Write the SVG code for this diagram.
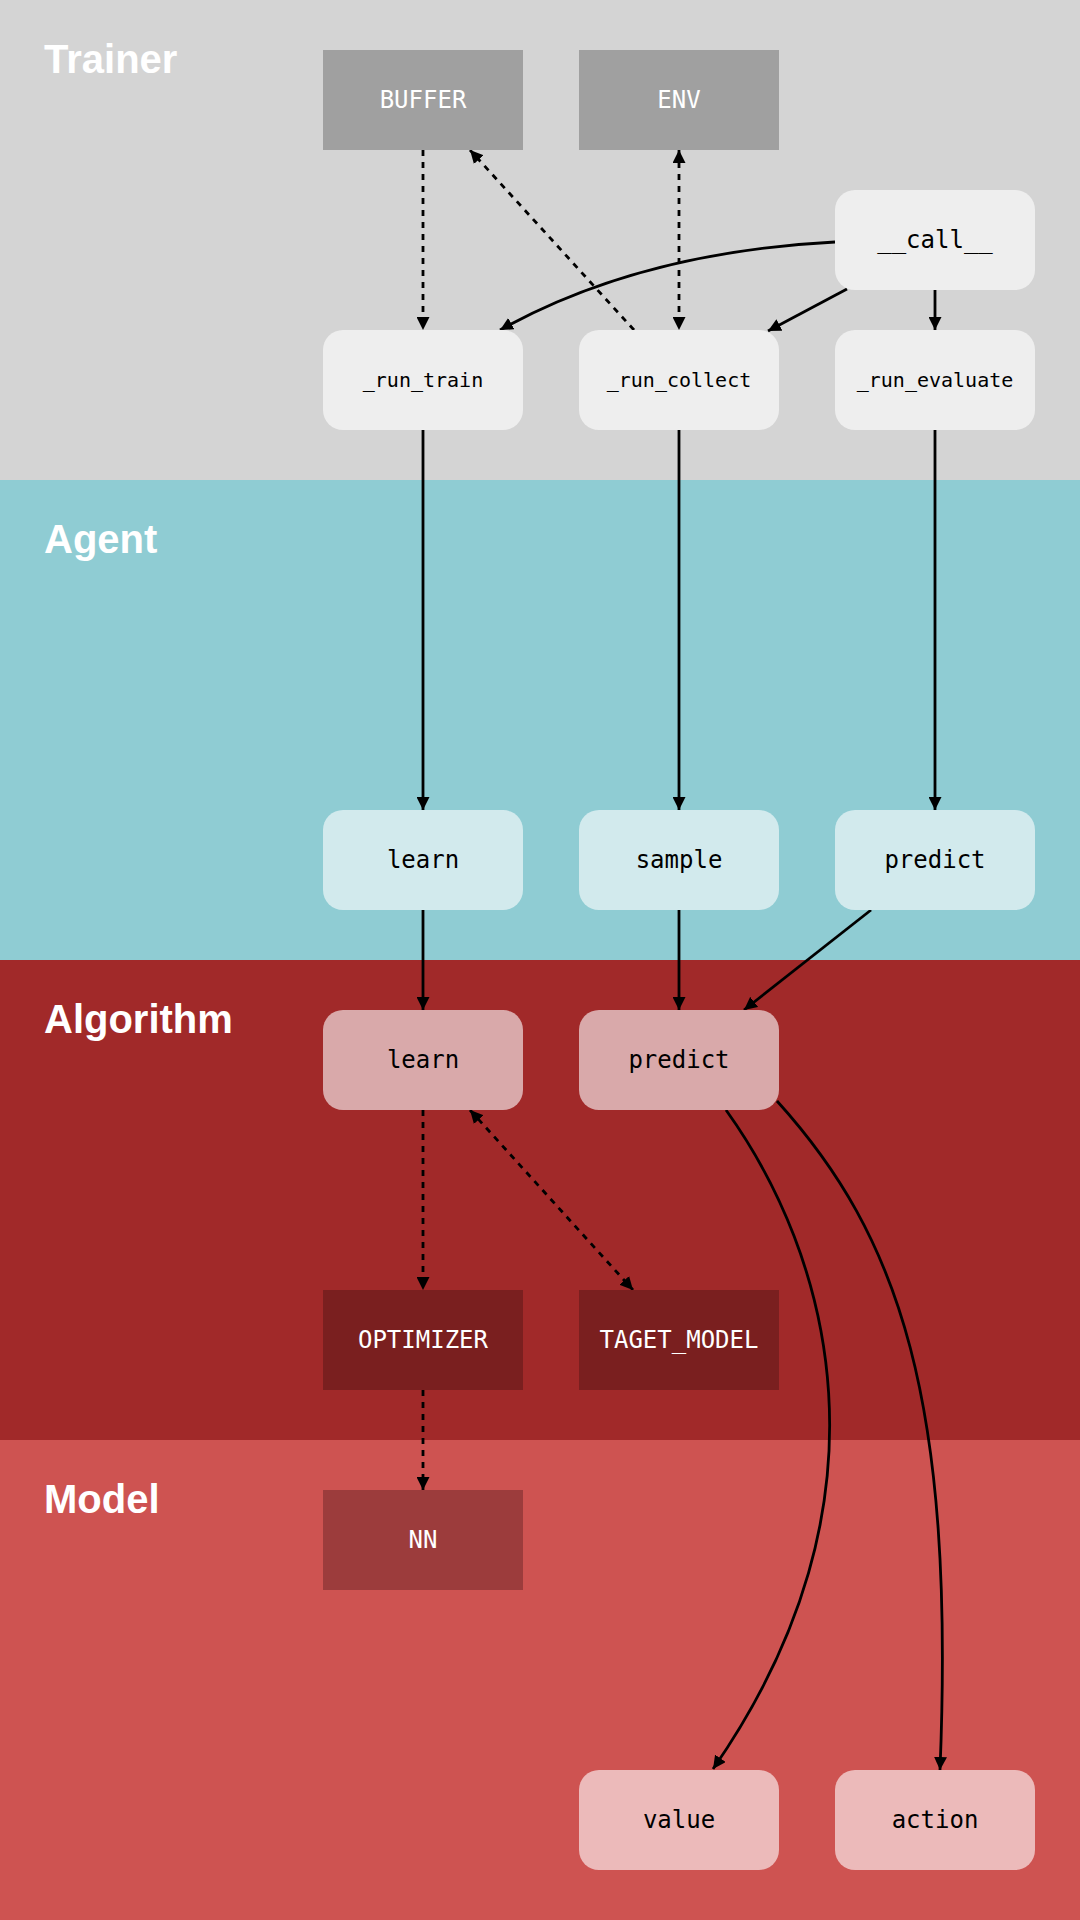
<svg xmlns="http://www.w3.org/2000/svg" width="1080" height="1920" viewBox="0 0 1080 1920">
<defs>
<marker id="ah" markerUnits="userSpaceOnUse" markerWidth="13" markerHeight="13" refX="13" refY="6.5" orient="auto-start-reverse" viewBox="0 0 13 13">
<path d="M0,0 L13,6.5 L0,13 z" fill="#000"/>
</marker>
<style>
.band-label{font-family:"Liberation Sans",Arial,sans-serif;font-weight:bold;font-size:40px;fill:#fff}
.t{font-family:"DejaVu Sans Mono","Liberation Mono",monospace;font-size:24px;text-anchor:middle;dominant-baseline:central}
.ts{font-size:20px}
.w{fill:#fff}
.k{fill:#000}
.c{fill:none;stroke:#000;stroke-width:2.8}
.d{stroke-dasharray:6 6}
.tr{fill:#eeeeee}
.ag{fill:#d2eaed}
.al{fill:#d9a9aa}
.mo{fill:#ecbaba}
</style>
</defs>
<g id="bands">
<rect x="0" y="0" width="1080" height="480" fill="#d4d4d4"/>
<rect x="0" y="480" width="1080" height="480" fill="#8fccd3"/>
<rect x="0" y="960" width="1080" height="480" fill="#a12929"/>
<rect x="0" y="1440" width="1080" height="480" fill="#ce5351"/>
<text class="band-label" x="44" y="73">Trainer</text>
<text class="band-label" x="44" y="553">Agent</text>
<text class="band-label" x="44" y="1033">Algorithm</text>
<text class="band-label" x="44" y="1513">Model</text>
</g>
<g id="connectors">
<path class="c d" d="M423,150 V330" marker-end="url(#ah)"/>
<path class="c d" d="M634,330 L470,150" marker-end="url(#ah)"/>
<path class="c d" d="M679,150 V330" marker-start="url(#ah)" marker-end="url(#ah)"/>
<path class="c" d="M835,242 Q640,252 500,330" marker-end="url(#ah)"/>
<path class="c" d="M847,289 L768,331" marker-end="url(#ah)"/>
<path class="c" d="M935,290 V330" marker-end="url(#ah)"/>
<path class="c" d="M423,430 V810" marker-end="url(#ah)"/>
<path class="c" d="M679,430 V810" marker-end="url(#ah)"/>
<path class="c" d="M935,430 V810" marker-end="url(#ah)"/>
<path class="c" d="M423,910 V1010" marker-end="url(#ah)"/>
<path class="c" d="M679,910 V1010" marker-end="url(#ah)"/>
<path class="c" d="M871,910 L744,1010" marker-end="url(#ah)"/>
<path class="c d" d="M423,1110 V1290" marker-end="url(#ah)"/>
<path class="c d" d="M470,1110 L633,1290" marker-start="url(#ah)" marker-end="url(#ah)"/>
<path class="c d" d="M423,1390 V1490" marker-end="url(#ah)"/>
<path class="c" d="M726,1110 C830,1255 900,1500 713,1769" marker-end="url(#ah)"/>
<path class="c" d="M777,1101 C900,1237 955,1400 940,1770" marker-end="url(#ah)"/>
</g>
<g id="buffer"><rect x="323" y="50" width="200" height="100" fill="#a0a0a0"/><text class="t w" x="423" y="100">BUFFER</text></g>
<g id="env"><rect x="579" y="50" width="200" height="100" fill="#a0a0a0"/><text class="t w" x="679" y="100">ENV</text></g>
<g id="call"><rect class="tr" x="835" y="190" width="200" height="100" rx="20"/><text class="t k" x="935" y="240">__call__</text></g>
<g id="run_train"><rect class="tr" x="323" y="330" width="200" height="100" rx="20"/><text class="t ts k" x="423" y="380">_run_train</text></g>
<g id="run_collect"><rect class="tr" x="579" y="330" width="200" height="100" rx="20"/><text class="t ts k" x="679" y="380">_run_collect</text></g>
<g id="run_evaluate"><rect class="tr" x="835" y="330" width="200" height="100" rx="20"/><text class="t ts k" x="935" y="380">_run_evaluate</text></g>
<g id="agent_learn"><rect class="ag" x="323" y="810" width="200" height="100" rx="20"/><text class="t k" x="423" y="860">learn</text></g>
<g id="agent_sample"><rect class="ag" x="579" y="810" width="200" height="100" rx="20"/><text class="t k" x="679" y="860">sample</text></g>
<g id="agent_predict"><rect class="ag" x="835" y="810" width="200" height="100" rx="20"/><text class="t k" x="935" y="860">predict</text></g>
<g id="alg_learn"><rect class="al" x="323" y="1010" width="200" height="100" rx="20"/><text class="t k" x="423" y="1060">learn</text></g>
<g id="alg_predict"><rect class="al" x="579" y="1010" width="200" height="100" rx="20"/><text class="t k" x="679" y="1060">predict</text></g>
<g id="optimizer"><rect x="323" y="1290" width="200" height="100" fill="#7a1f1f"/><text class="t w" x="423" y="1340">OPTIMIZER</text></g>
<g id="target_model"><rect x="579" y="1290" width="200" height="100" fill="#7a1f1f"/><text class="t w" x="679" y="1340">TAGET_MODEL</text></g>
<g id="nn"><rect x="323" y="1490" width="200" height="100" fill="#9c3c3c"/><text class="t w" x="423" y="1540">NN</text></g>
<g id="value"><rect class="mo" x="579" y="1770" width="200" height="100" rx="20"/><text class="t k" x="679" y="1820">value</text></g>
<g id="action"><rect class="mo" x="835" y="1770" width="200" height="100" rx="20"/><text class="t k" x="935" y="1820">action</text></g>
</svg>
